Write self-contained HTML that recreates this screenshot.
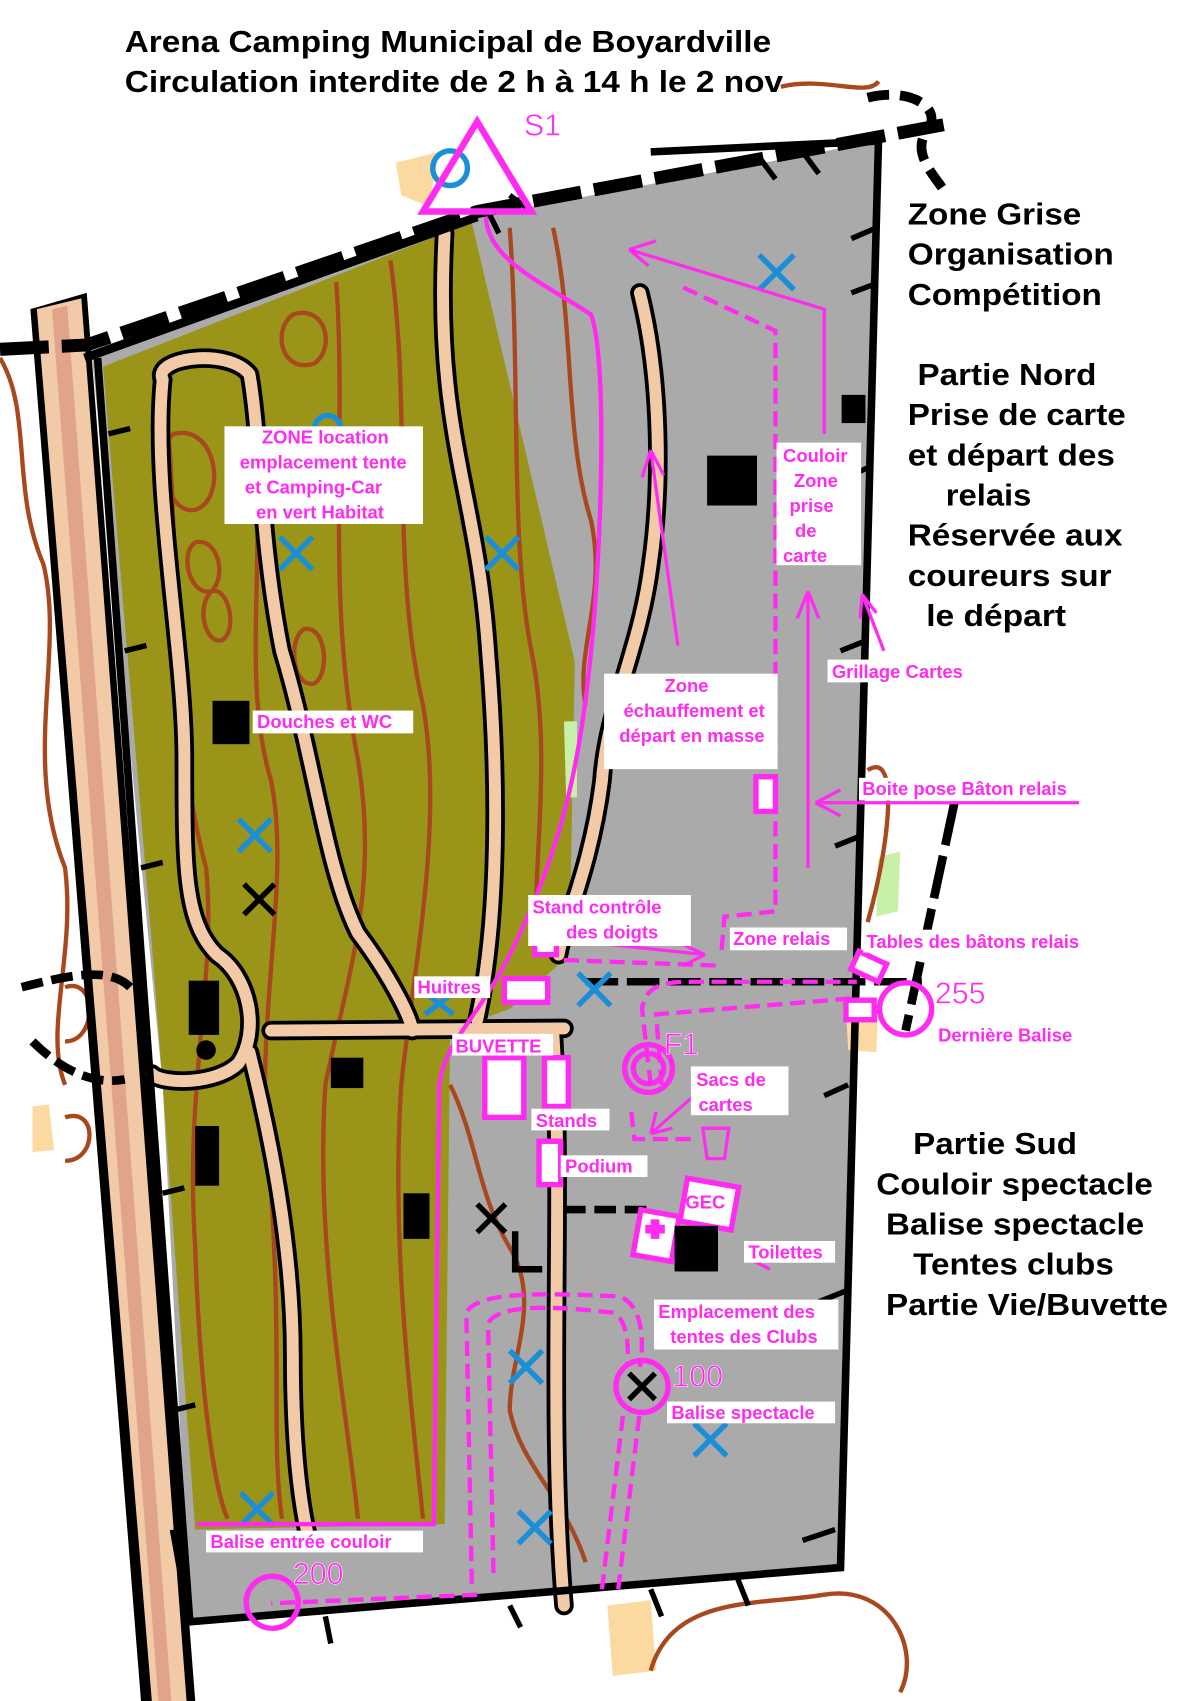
<!DOCTYPE html>
<html><head><meta charset="utf-8"><style>
html,body{margin:0;padding:0;background:#fff}
svg{display:block}
.l{font-family:"Liberation Sans",sans-serif;font-weight:bold;fill:#ff2bf0;font-size:17px}
.b{font-family:"Liberation Sans",sans-serif;font-weight:bold;fill:#000;font-size:28px}
</style></head><body>
<svg width="1193" height="1701" viewBox="0 0 1100 1568" preserveAspectRatio="none" xmlns="http://www.w3.org/2000/svg">
<rect width="1100" height="1568" fill="#fff"/>
<polygon points="85,330 440,200 810,130 775,1445 175,1495 150,1000" fill="#aaaaaa"/>
<polygon points="95,338 435,205 530,610 525,880 470,930 415,950 410,1405 180,1410 150,1000 140,870" fill="#9a9518"/>
<polygon points="520,665 532,665 532,735 522,735" fill="#c8f0a8"/>
<polygon points="810,790 830,785 828,840 808,845" fill="#c8f0a8"/>
<path d="M365,150 L405,140 L395,190 L370,180Z" fill="#fbd9a0"/>
<path d="M780,930 L810,925 L808,970 L782,968Z" fill="#fbd9a0"/>
<path d="M560,1480 L600,1475 L605,1540 L565,1545Z" fill="#fbd9a0"/>
<path d="M30,1020 L45,1018 L50,1060 L30,1062Z" fill="#fbd9a0"/>
<g fill="none" stroke="#a8481f" stroke-width="4">
<path d="M150,350 C170,500 150,650 190,800 C200,900 170,1000 180,1150 C185,1300 200,1380 210,1400"/>
<path d="M230,370 C250,500 220,620 250,720 C270,820 230,950 250,1100 C260,1250 250,1330 260,1400"/>
<path d="M310,260 C320,400 300,550 330,700 C350,820 320,900 300,1000 C290,1150 320,1300 330,1400"/>
<path d="M360,240 C380,380 360,520 390,650 C410,760 380,900 370,1000 C360,1150 380,1300 390,1400"/>
<path d="M470,210 C480,350 470,500 490,600 C510,700 490,800 495,870"/>
<path d="M510,210 C530,300 520,400 545,480 C560,550 530,600 540,650"/>
<path d="M415,1000 C440,1050 440,1100 470,1150 C500,1200 470,1250 470,1300 C480,1350 520,1380 540,1440"/>
<path d="M0,330 C30,380 10,450 40,520 C60,600 20,700 60,800 C70,880 40,950 60,1000"/>
<path d="M600,1540 C620,1470 700,1480 760,1470 C820,1460 850,1520 830,1560"/>
<path d="M720,80 C760,70 800,90 810,75"/>
<path d="M800,710 C830,690 820,780 800,850"/>
<path d="M270,290 C300,280 310,320 290,335 C260,345 250,305 270,290Z"/>
<path d="M180,500 C200,495 210,530 195,545 C175,550 165,510 180,500Z"/>
<path d="M195,545 C210,540 220,580 205,590 C190,595 180,560 195,545Z"/>
<path d="M280,580 C300,575 305,620 290,630 C270,635 265,590 280,580Z"/>
<path d="M160,400 C200,390 210,460 180,470 C150,475 145,410 160,400Z"/>
<path d="M60,910 C90,900 90,960 60,960"/>
<path d="M60,1030 C90,1020 90,1070 60,1070"/>
</g>
<polygon points="28,285 80,270 180,1568 130,1568" fill="#000"/>
<polygon points="34,285 75,275 172,1568 140,1568" fill="#f3caa8"/>
<polygon points="48,285 62,282 158,1568 146,1568" fill="#e0a48a"/>
<g fill="none" stroke-linecap="round" stroke-linejoin="round">
<g stroke="#000" stroke-width="18">
<path d="M410,215 C400,400 440,450 450,600 C460,720 460,850 440,940"/>
<path d="M590,270 C610,350 610,450 600,520 C590,600 560,650 555,720 C545,800 520,850 515,880"/>
<path d="M150,350 C140,330 210,320 230,345 C240,400 240,500 260,600 C290,700 300,800 330,860 C360,900 380,940 380,950"/>
<path d="M150,350 C140,450 170,600 170,700 C170,800 170,850 200,880 C230,900 240,950 220,980 C200,1000 150,1000 140,990"/>
<path d="M250,950 L520,948"/>
<path d="M230,970 C250,1050 270,1150 270,1250 C270,1350 280,1400 285,1420"/>
<path d="M510,950 C520,1100 505,1300 520,1480"/>
</g>
<g stroke="#f3caa8" stroke-width="11">
<path d="M410,215 C400,400 440,450 450,600 C460,720 460,850 440,940"/>
<path d="M590,270 C610,350 610,450 600,520 C590,600 560,650 555,720 C545,800 520,850 515,880"/>
<path d="M150,350 C140,330 210,320 230,345 C240,400 240,500 260,600 C290,700 300,800 330,860 C360,900 380,940 380,950"/>
<path d="M150,350 C140,450 170,600 170,700 C170,800 170,850 200,880 C230,900 240,950 220,980 C200,1000 150,1000 140,990"/>
<path d="M250,950 L520,948"/>
<path d="M230,970 C250,1050 270,1150 270,1250 C270,1350 280,1400 285,1420"/>
<path d="M510,950 C520,1100 505,1300 520,1480"/>
</g>
</g>
<g fill="none" stroke="#000">
<polyline points="78,330 440,200" stroke-width="8"/>
<polyline points="600,140 810,130 775,1445 175,1495 160,1410" stroke-width="7"/>
<polyline points="90,330 175,1495" stroke-width="7"/>
<path d="M0,322 L80,318 L440,195 L870,115" stroke-width="12" stroke-dasharray="45,12"/>
<path d="M800,90 C840,80 870,100 855,120 C840,140 860,160 870,175" stroke-width="9" stroke-dasharray="20,10"/>
<path d="M880,740 L835,950" stroke-width="8" stroke-dasharray="40,10"/>
<path d="M540,905 L850,905" stroke-width="7" stroke-dasharray="30,8"/>
<path d="M20,910 C60,900 100,890 120,910" stroke-width="8" stroke-dasharray="20,8"/>
<path d="M30,960 C60,990 90,1000 115,995" stroke-width="8" stroke-dasharray="20,8"/>
<path d="M520,1115 L600,1115" stroke-width="7" stroke-dasharray="20,8"/>
<path d="M475,1135 L475,1170 L500,1170" stroke-width="6"/>
</g>
<g stroke="#000" stroke-width="5">
<path d="M785,220 L808,210 M785,270 L806,262 M780,440 L803,430 M775,600 L800,590 M770,780 L795,770 M760,1010 L782,1000 M755,1200 L780,1190 M740,1420 L770,1410 M700,145 L715,165 M740,140 L755,160 M470,180 L490,195 M450,195 L460,215 M100,400 L120,395 M115,600 L135,595 M130,800 L150,795 M150,1100 L170,1095 M160,1300 L180,1295 M470,1480 L480,1500 M600,1465 L610,1490 M680,1455 L690,1480 M300,1490 L305,1515"/>
</g>
<g fill="#000">
<rect x="652" y="420" width="46" height="46"/>
<rect x="776" y="364" width="22" height="26"/>
<rect x="196" y="646" width="34" height="40"/>
<rect x="174" y="904" width="28" height="50"/>
<rect x="305" y="975" width="30" height="28"/>
<rect x="180" y="1038" width="22" height="55"/>
<rect x="372" y="1100" width="24" height="42"/>
<rect x="626" y="1130" width="36" height="42"/>
<circle cx="190" cy="968" r="9"/>
</g>
<g stroke="#1a8fd8" stroke-width="5" fill="none">
<path d="M700,235 L732,267 M732,235 L700,267"/>
<path d="M258,495 L288,525 M288,495 L258,525"/>
<path d="M448,495 L478,525 M478,495 L448,525"/>
<path d="M220,755 L250,785 M250,755 L220,785"/>
<path d="M533,897 L563,927 M563,897 L533,927"/>
<path d="M392,915 L418,935 M418,915 L392,935"/>
<path d="M470,1245 L500,1275 M500,1245 L470,1275"/>
<path d="M640,1312 L670,1342 M670,1312 L640,1342"/>
<path d="M478,1393 L508,1423 M508,1393 L478,1423"/>
<path d="M222,1376 L252,1406 M252,1376 L222,1406"/>
<circle cx="415" cy="155" r="16"/>
<circle cx="302" cy="395" r="12"/>
</g>
<g stroke="#000" stroke-width="5">
<path d="M225,815 L253,843 M253,815 L225,843"/>
<path d="M440,1110 L466,1136 M466,1110 L440,1136"/>
<path d="M580,1266 L604,1290 M604,1266 L580,1290"/>
</g>
<g fill="none" stroke="#ff2bf0" stroke-width="5">
<path d="M390,195 L440,112 L490,195 Z" stroke-width="6"/>
<path d="M448,200 C450,240 500,260 545,290 C560,330 555,500 545,600 C535,700 520,780 470,880 C440,940 410,960 405,1000 L400,1405 L182,1405" stroke-width="4"/>
<path d="M760,400 L760,285 L580,230 M580,230 L605,222 M580,230 L598,245" stroke-width="3"/>
<path d="M625,595 L600,415 M600,415 L592,440 M600,415 L612,438" stroke-width="3"/>
<path d="M745,800 L745,545 M745,545 L735,570 M745,545 L755,570" stroke-width="3"/>
<path d="M995,740 L752,740 M752,740 L775,728 M752,740 L775,752" stroke-width="3"/>
<path d="M555,870 L650,880 M650,880 L628,870 M650,880 L630,890" stroke-width="3"/>
<path d="M815,600 L795,548 M795,548 L793,570 M795,548 L808,565" stroke-width="3"/>
<path d="M690,1160 L760,1160 M690,1160 L710,1150 M690,1160 L710,1170" stroke-width="3"/>
<path d="M640,1010 L600,1045 M600,1045 L605,1025 M600,1045 L620,1040" stroke-width="3"/>
<g stroke-dasharray="14,7" stroke-width="4">
<path d="M630,265 L715,305 L715,840 L668,845 L665,880"/>
<path d="M520,885 L660,890"/>
<path d="M600,1000 L592,930 C595,905 620,905 640,905 L790,905"/>
<path d="M610,1000 L605,935 L790,920"/>
<path d="M440,1470 L250,1478 M435,1460 L430,1210 C440,1190 500,1192 570,1195 C590,1200 595,1230 590,1260"/>
<path d="M455,1450 L450,1220 C460,1200 520,1205 565,1210 C580,1215 580,1250 578,1260"/>
<path d="M555,1465 L575,1300 M570,1465 L590,1300"/>
<path d="M582,1025 L585,1050 L640,1050"/>
</g>
<circle cx="598" cy="985" r="22"/>
<circle cx="598" cy="985" r="14"/>
<circle cx="592" cy="1278" r="24"/>
<circle cx="251" cy="1477" r="24"/>
<circle cx="835" cy="930" r="24"/>
<rect x="493" y="852" width="20" height="28" fill="#fff"/>
<rect x="465" y="902" width="40" height="22" fill="#fff"/>
<rect x="697" y="716" width="18" height="32" fill="#fff"/>
<rect x="447" y="975" width="36" height="55" fill="#fff"/>
<rect x="502" y="975" width="22" height="45" fill="#fff"/>
<rect x="497" y="1052" width="20" height="40" fill="#fff"/>
<rect x="787" y="882" width="28" height="18" fill="#fff" transform="rotate(25 801 891)"/>
<rect x="780" y="922" width="26" height="18" fill="#fff"/>
<rect x="630" y="1090" width="48" height="40" fill="#fff" transform="rotate(10 654 1110)"/>
<rect x="587" y="1118" width="36" height="42" fill="#fff" transform="rotate(10 605 1139)"/>
<path d="M648,1040 L672,1040 L668,1068 L652,1068 Z" stroke-width="3"/>
</g>
<path d="M595,1129 h18 v8 h-18z M600,1124 h8 v18 h-8z" fill="#ff2bf0"/>
<rect x="622" y="1130" width="40" height="42" fill="#000"/>
<g>
<rect x="207" y="393" width="183" height="90" fill="#fff"/>
<text class="l" text-anchor="middle" x="300" y="409">ZONE location</text>
<text class="l" text-anchor="middle" x="298" y="432">emplacement tente</text>
<text class="l" text-anchor="middle" x="289" y="455">et Camping-Car</text>
<text class="l" text-anchor="middle" x="295" y="478">en vert Habitat</text>
<rect x="233" y="655" width="148" height="21" fill="#fff"/>
<text class="l" x="237" y="671">Douches et WC</text>
<rect x="716" y="408" width="78" height="113" fill="#fff"/>
<text class="l" x="722" y="426">Couloir</text>
<text class="l" x="732" y="449">Zone</text>
<text class="l" x="728" y="472">prise</text>
<text class="l" x="733" y="495">de</text>
<text class="l" x="722" y="518">carte</text>
<rect x="557" y="621" width="160" height="88" fill="#fff"/>
<text class="l" text-anchor="middle" x="633" y="638">Zone</text>
<text class="l" text-anchor="middle" x="640" y="661">échauffement et</text>
<text class="l" text-anchor="middle" x="638" y="684">départ en masse</text>
<rect x="763" y="608" width="140" height="21" fill="#fff"/>
<text class="l" x="767" y="625">Grillage Cartes</text>
<rect x="792" y="717" width="205" height="21" fill="#fff"/>
<text class="l" x="795" y="733">Boite pose Bâton relais</text>
<rect x="487" y="825" width="150" height="47" fill="#fff"/>
<text class="l" x="491" y="842">Stand contrôle</text>
<text class="l" x="522" y="865">des doigts</text>
<rect x="673" y="855" width="108" height="21" fill="#fff"/>
<text class="l" x="676" y="871">Zone relais</text>
<rect x="796" y="857" width="222" height="21" fill="#fff"/>
<text class="l" x="799" y="874">Tables des bâtons relais</text>
<rect x="382" y="900" width="70" height="20" fill="#fff"/>
<text class="l" x="385" y="916">Huitres</text>
<rect x="417" y="953" width="93" height="20" fill="#fff"/>
<text class="l" x="420" y="970">BUVETTE</text>
<rect x="490" y="1022" width="72" height="20" fill="#fff"/>
<text class="l" x="494" y="1039">Stands</text>
<rect x="517" y="1065" width="80" height="20" fill="#fff"/>
<text class="l" x="521" y="1081">Podium</text>
<rect x="637" y="983" width="90" height="45" fill="#fff"/>
<text class="l" x="642" y="1001">Sacs de</text>
<text class="l" x="644" y="1024">cartes</text>
<text class="l" x="632" y="1114">GEC</text>
<rect x="686" y="1144" width="84" height="20" fill="#fff"/>
<text class="l" x="690" y="1160">Toilettes</text>
<rect x="603" y="1198" width="170" height="46" fill="#fff"/>
<text class="l" x="607" y="1215">Emplacement des</text>
<text class="l" x="618" y="1238">tentes  des Clubs</text>
<rect x="615" y="1292" width="155" height="20" fill="#fff"/>
<text class="l" x="619" y="1308">Balise spectacle</text>
<rect x="190" y="1411" width="200" height="20" fill="#fff"/>
<text class="l" x="194" y="1427">Balise entrée couloir</text>
<text class="l" x="865" y="960">Dernière Balise</text>
<g font-family="Liberation Sans,sans-serif" font-size="28" fill="#ff2bf0" stroke="#fff" stroke-width="0.5">
<text x="483" y="125">S1</text>
<text x="612" y="972">F1</text>
<text x="862" y="925">255</text>
<text x="620" y="1278">100</text>
<text x="270" y="1460">200</text>
</g>
</g>
<g lengthAdjust="spacingAndGlyphs">
<text class="b" x="115" y="48" textLength="596" lengthAdjust="spacingAndGlyphs">Arena Camping Municipal de Boyardville</text>
<text class="b" x="115" y="85" textLength="607" lengthAdjust="spacingAndGlyphs">Circulation interdite de 2 h à 14 h le 2 nov</text>
<text class="b" x="837" y="207" textLength="160" lengthAdjust="spacingAndGlyphs">Zone Grise</text>
<text class="b" x="837" y="244" textLength="190" lengthAdjust="spacingAndGlyphs">Organisation</text>
<text class="b" x="837" y="281" textLength="179" lengthAdjust="spacingAndGlyphs">Compétition</text>
<text class="b" x="846" y="355" textLength="165" lengthAdjust="spacingAndGlyphs">Partie Nord</text>
<text class="b" x="837" y="392" textLength="201" lengthAdjust="spacingAndGlyphs">Prise de carte</text>
<text class="b" x="837" y="429" textLength="191" lengthAdjust="spacingAndGlyphs">et départ des</text>
<text class="b" x="872" y="466" textLength="79" lengthAdjust="spacingAndGlyphs">relais</text>
<text class="b" x="837" y="503" textLength="198" lengthAdjust="spacingAndGlyphs">Réservée aux</text>
<text class="b" x="837" y="540" textLength="188" lengthAdjust="spacingAndGlyphs">coureurs sur</text>
<text class="b" x="854" y="577" textLength="129" lengthAdjust="spacingAndGlyphs">le départ</text>
<text class="b" x="842" y="1064" textLength="151" lengthAdjust="spacingAndGlyphs">Partie Sud</text>
<text class="b" x="808" y="1101" textLength="255" lengthAdjust="spacingAndGlyphs">Couloir spectacle</text>
<text class="b" x="817" y="1138" textLength="238" lengthAdjust="spacingAndGlyphs">Balise spectacle</text>
<text class="b" x="842" y="1175" textLength="185" lengthAdjust="spacingAndGlyphs">Tentes clubs</text>
<text class="b" x="817" y="1212" textLength="260" lengthAdjust="spacingAndGlyphs">Partie Vie/Buvette</text>
</g>
</svg>
</body></html>
